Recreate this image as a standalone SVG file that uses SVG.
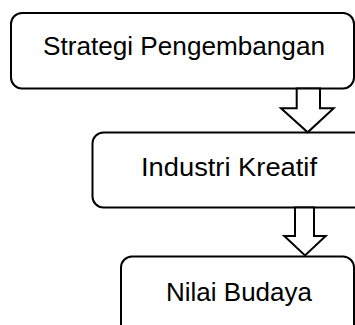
<svg xmlns="http://www.w3.org/2000/svg" width="355" height="325" viewBox="0 0 355 325">
<style>
.box{fill:#fff;stroke:#000;stroke-width:2}
.arr{fill:#fff;stroke:#000;stroke-width:2;stroke-linejoin:miter}
.lbl{font-family:"Liberation Sans",Arial,sans-serif;font-size:25px;fill:#000}
</style>
<rect width="355" height="325" fill="#fff"/>
<g id="node-strategi">
<rect class="box" x="11" y="13" width="343" height="75.5" rx="11"/>
<text class="lbl" x="43" y="55" textLength="282" lengthAdjust="spacingAndGlyphs">Strategi Pengembangan</text>
</g>
<g id="node-industri">
<rect class="box" x="92.5" y="132.5" width="280" height="75" rx="11"/>
<text class="lbl" x="141" y="175.7" textLength="176" lengthAdjust="spacingAndGlyphs">Industri Kreatif</text>
</g>
<g id="node-nilai">
<rect class="box" x="121" y="256.5" width="233" height="90" rx="11"/>
<text class="lbl" x="166" y="300.7" textLength="146" lengthAdjust="spacingAndGlyphs">Nilai Budaya</text>
</g>
<g id="connectors">
<polygon class="arr" points="296.7,88.5 320,88.5 320,108.3 333.7,108.3 307.7,132.3 281,108.3 296.7,108.3"/>
<polygon class="arr" points="295,207.5 314,207.5 314,236 325.7,236 305,255.5 284.3,236 295,236"/>
</g>
</svg>
